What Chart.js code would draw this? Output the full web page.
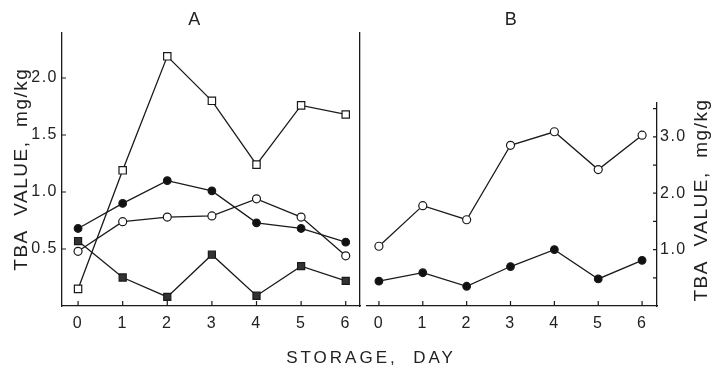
<!DOCTYPE html>
<html lang="en">
<head>
    <meta charset="UTF-8">
    <title>TBA value during storage</title>
    <script src="https://cdn.jsdelivr.net/npm/chart.js@4.4.1/dist/chart.umd.min.js"></script>
    <style>
        body { margin: 0; background: #fff; }
        #wrap { position: relative; width: 711px; height: 367px; overflow: hidden; }
        #chartA { position: absolute; left: 0; top: 0; }
        #chartB { position: absolute; left: 361px; top: 0; }
        #xTitle {
            position: absolute; left: 0; top: 348px; width: 742px; text-align: center;
            font: 17px "Liberation Sans", Arial, sans-serif; line-height: 20px;
            letter-spacing: 3px; color: #222;
        }
    </style>
</head>
<body>
    <div id="wrap">
        <canvas id="chartA" width="390" height="367"></canvas>
        <canvas id="chartB" width="350" height="367"></canvas>
        <div id="xTitle">STORAGE,&nbsp; DAY</div>
    </div>

    <script>
        // storage day
        const days = [0, 1, 2, 3, 4, 5, 6]

        // panel A, TBA mg/kg
        const aOpenSquare   = [0.15, 1.19, 2.19, 1.80, 1.24, 1.76, 1.68]
        const aFilledCircle = [0.68, 0.90, 1.10, 1.01, 0.73, 0.68, 0.56]
        const aOpenCircle   = [0.48, 0.74, 0.78, 0.79, 0.94, 0.78, 0.44]
        const aFilledSquare = [0.57, 0.25, 0.08, 0.45, 0.09, 0.35, 0.22]

        // panel B, TBA mg/kg
        const bOpenCircle   = [1.06, 1.78, 1.53, 2.85, 3.09, 2.42, 3.03]
        const bFilledCircle = [0.44, 0.59, 0.35, 0.70, 1.00, 0.48, 0.81]

        const aYTicks = [0.5, 1.0, 1.5, 2.0]
        const bYTicks = [0.5, 1.0, 1.5, 2.0, 2.5, 3.0, 3.5]

        const ink = '#1a1a1a'
        const fontName = '"Liberation Sans", Arial, sans-serif'
        Chart.defaults.font.family = fontName
        Chart.defaults.color = '#222'

        const pts = arr => arr.map((v, i) => ({x: days[i], y: v}))

        const series = (data, shape, fill, r) => ({
            data: pts(data),
            borderColor: ink,
            borderWidth: 1.3,
            pointStyle: shape,
            pointRadius: r,
            pointBackgroundColor: fill,
            pointBorderColor: ink,
            pointBorderWidth: 1.2,
            tension: 0
        })

        // letter spacing for all canvas text
        const spacing = {
            id: 'spacing',
            beforeUpdate(chart) { chart.ctx.letterSpacing = '1.5px' },
            beforeDraw(chart) { chart.ctx.letterSpacing = '1.5px' }
        }

        // tick marks drawn inside the plot area
        const innerTicks = {
            id: 'innerTicks',
            afterDraw(chart, args, opts) {
                const ctx = chart.ctx, a = chart.chartArea
                ctx.save()
                ctx.strokeStyle = ink
                ctx.lineWidth = 1.2
                ctx.beginPath()
                for (const id of opts.ids || []) {
                    const s = chart.scales[id]
                    for (const t of s.ticks) {
                        const p = s.getPixelForValue(t.value)
                        if (s.isHorizontal()) {
                            ctx.moveTo(p, a.bottom); ctx.lineTo(p, a.bottom - 5)
                        } else if (s.position === 'left') {
                            ctx.moveTo(a.left, p); ctx.lineTo(a.left + 4, p)
                        } else {
                            ctx.moveTo(a.right, p); ctx.lineTo(a.right - 4, p)
                        }
                    }
                }
                ctx.stroke()
                ctx.restore()
            }
        }

        // rotated axis title reading bottom to top
        const sideTitle = {
            id: 'sideTitle',
            afterDraw(chart, args, opts) {
                if (!opts.text) return
                const ctx = chart.ctx
                ctx.save()
                ctx.font = '19px ' + fontName
                ctx.fillStyle = '#222'
                ctx.textAlign = 'center'
                ctx.textBaseline = 'middle'
                ctx.translate(opts.x, opts.y)
                ctx.rotate(-Math.PI / 2)
                ctx.fillText(opts.text, 0, 0)
                ctx.restore()
            }
        }

        const noGrid = {drawOnChartArea: false, drawTicks: false}
        const axisBorder = {color: ink, width: 1.3}

        new Chart(document.getElementById('chartA'), {
            type: 'line',
            data: {
                datasets: [
                    series(aOpenSquare, 'rect', '#fff', 5.2),
                    series(aFilledCircle, 'circle', '#111', 3.8),
                    series(aOpenCircle, 'circle', '#fff', 4),
                    series(aFilledSquare, 'rect', '#333', 5)
                ]
            },
            options: {
                responsive: false,
                animation: false,
                layout: {padding: {left: 0, right: 0, top: 0, bottom: 25.8}},
                plugins: {
                    legend: {display: false},
                    tooltip: {enabled: false},
                    title: {display: true, text: 'A', font: {size: 18, weight: 'normal'}, padding: {top: 9, bottom: 1.8}},
                    innerTicks: {ids: ['x', 'y']}
                },
                scales: {
                    x: {
                        type: 'linear', min: -0.36, max: 6.32,
                        afterBuildTicks: s => { s.ticks = days.map(v => ({value: v})) },
                        ticks: {font: {size: 16}, padding: 8},
                        grid: noGrid, border: axisBorder
                    },
                    y: {
                        position: 'left', min: 0, max: 2.4,
                        afterBuildTicks: s => { s.ticks = aYTicks.map(v => ({value: v})) },
                        afterFit: s => { s.width = 62 },
                        ticks: {font: {size: 16}, padding: 4, callback: v => v.toFixed(1)},
                        title: {display: true, text: 'TBA  VALUE,  mg/kg', font: {size: 19}, padding: {top: 10, bottom: 0}},
                        grid: noGrid, border: axisBorder
                    },
                    yR: {
                        position: 'right', min: 0, max: 2.4,
                        afterFit: s => { s.width = 30 },
                        ticks: {display: false},
                        grid: noGrid, border: axisBorder
                    }
                }
            },
            plugins: [spacing, innerTicks]
        })

        new Chart(document.getElementById('chartB'), {
            type: 'line',
            data: {
                datasets: [
                    series(bOpenCircle, 'circle', '#fff', 4),
                    series(bFilledCircle, 'circle', '#111', 3.8)
                ]
            },
            options: {
                responsive: false,
                animation: false,
                layout: {padding: {left: 0, right: 0, top: 0, bottom: 25.8}},
                plugins: {
                    legend: {display: false},
                    tooltip: {enabled: false},
                    title: {display: true, fullSize: false, text: 'B', font: {size: 18, weight: 'normal'}, padding: {top: 9, bottom: 72.4}},
                    innerTicks: {ids: ['x', 'y']},
                    sideTitle: {text: 'TBA  VALUE,  mg/kg', x: 341, y: 200}
                },
                scales: {
                    x: {
                        type: 'linear', min: -0.29, max: 6.34,
                        afterBuildTicks: s => { s.ticks = days.map(v => ({value: v})) },
                        ticks: {font: {size: 16}, padding: 8},
                        grid: noGrid, border: axisBorder
                    },
                    y: {
                        position: 'right', min: 0, max: 3.6,
                        afterBuildTicks: s => { s.ticks = bYTicks.map(v => ({value: v})) },
                        afterFit: s => { s.width = 54 },
                        ticks: {font: {size: 16}, padding: 3, callback: v => Number.isInteger(v) ? v.toFixed(1) : ''},
                        grid: noGrid, border: axisBorder
                    }
                }
            },
            plugins: [spacing, innerTicks, sideTitle]
        })
    </script>
</body>
</html>
